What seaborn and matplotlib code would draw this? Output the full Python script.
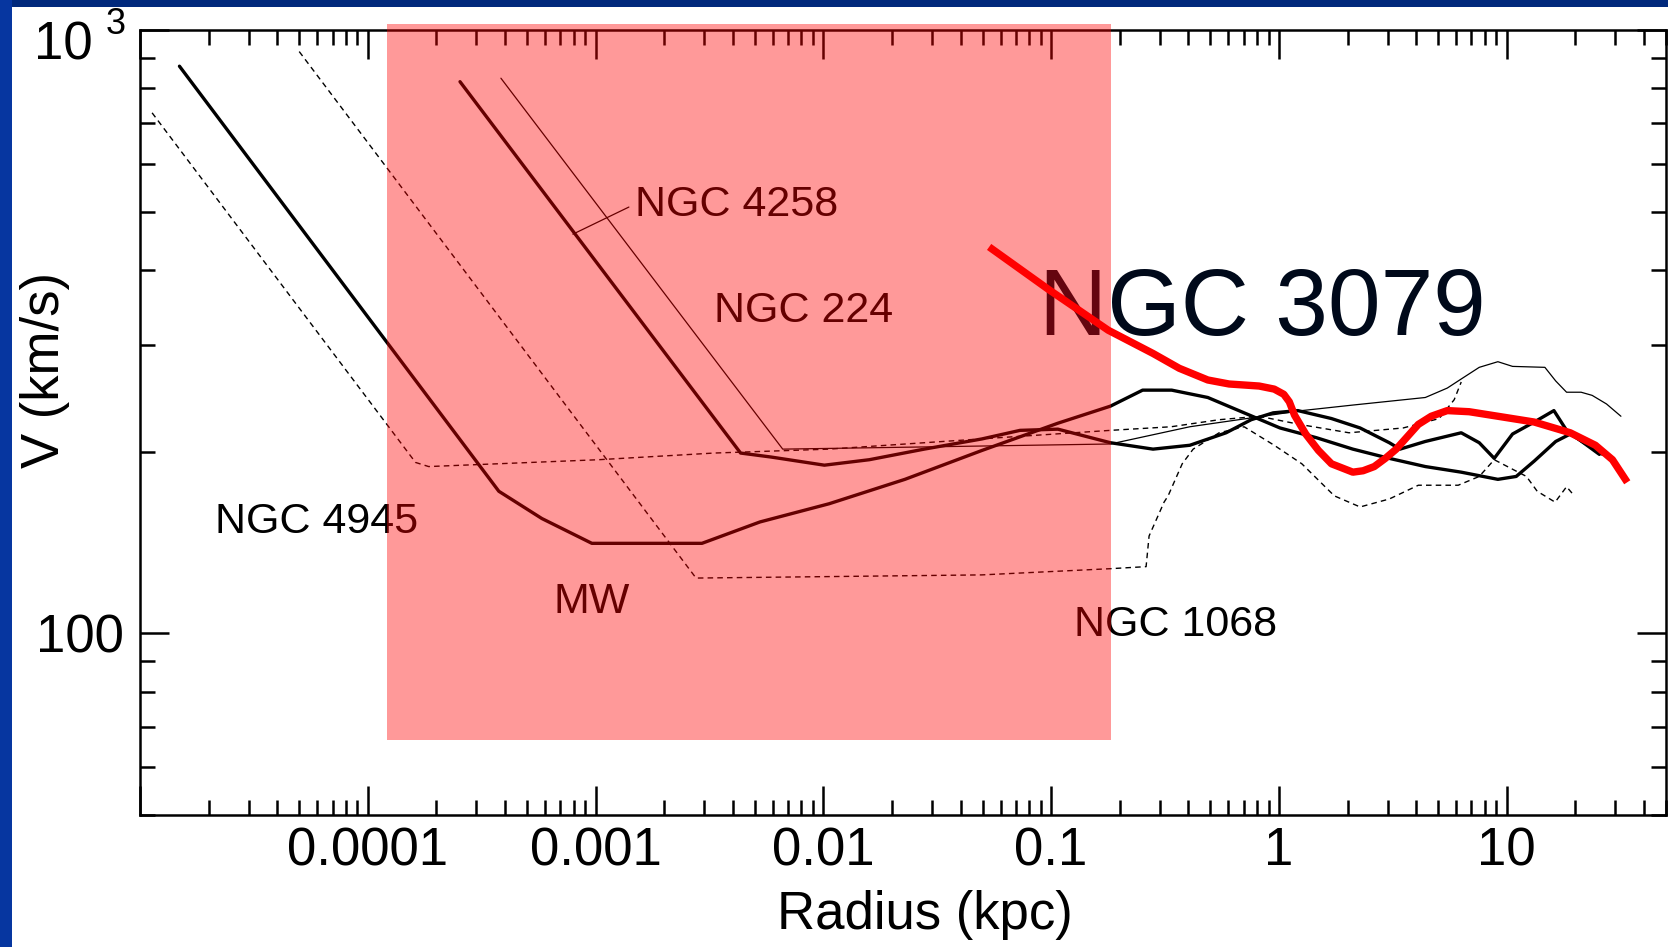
import numpy as np
import matplotlib
matplotlib.use("Agg")
import matplotlib.pyplot as plt
import seaborn as sns
from matplotlib.patches import Rectangle
from matplotlib.ticker import FixedLocator, FixedFormatter, LogLocator, NullFormatter

# ---------------------------------------------------------------------------
# Rotation curves: radius (kpc) and rotation velocity (km/s)
# ---------------------------------------------------------------------------
MW_R = [1.49e-5, 3.76e-4, 5.81e-4, 9.63e-4, 2.93e-3, 5.27e-3, 0.0106, 0.0228,
        0.0497, 0.107, 0.182, 0.252, 0.338, 0.487, 0.703, 1.01, 1.46, 2.11,
        3.05, 4.39, 6.31, 9.14, 11.0, 13.2, 16.4, 19.0, 26.4]
MW_V = [871, 172, 155, 141, 141, 153, 164, 180,
        201, 223, 238, 253, 253, 246, 232, 219, 211, 202,
        195, 189, 185, 180, 182, 193, 208, 214, 198]

N4258_R = [2.54e-4, 4.33e-3, 5.89e-3, 0.0101, 0.0159, 0.0277, 0.0496, 0.0730,
           0.107, 0.182, 0.280, 0.406, 0.586, 0.755, 0.943, 1.21, 1.70, 2.27,
           3.05, 3.40, 4.39, 6.31, 7.57, 8.81, 10.6, 13.2, 16.1, 18.3, 25.5]
N4258_V = [821, 199, 196, 190, 194, 202, 210, 217,
           218, 207, 202, 205, 215, 226, 232, 234, 227, 219,
           207, 202, 208, 215, 207, 195, 214, 224, 234, 217, 198]

N224_R = [3.84e-4, 6.63e-3, 0.0356, 0.182, 0.406, 1.26, 2.11, 4.39, 5.48, 6.31,
          7.57, 9.14, 10.6, 14.7, 16.4, 18.3, 21.2, 23.7, 27.4, 31.7]
N224_V = [832, 202, 204, 206, 220, 234, 239, 246, 255, 264,
          276, 282, 277, 276, 262, 251, 251, 248, 240, 229]

N4945_R = [1.13e-5, 1.62e-4, 1.85e-4, 1.03e-3, 3.31e-3, 0.0106, 0.0590, 0.182,
           0.336, 0.546, 0.818, 1.23, 2.03, 3.51, 5.05, 5.88, 6.31]
N4945_V = [729, 192, 189, 194, 199, 202, 211, 217,
           220, 226, 229, 222, 215, 219, 227, 244, 261]

N1068_R = [5.0e-5, 2.76e-3, 0.0496, 0.182, 0.261, 0.269, 0.313, 0.326, 0.376,
           0.420, 0.546, 0.703, 0.953, 1.26, 1.75, 2.27, 3.05, 4.09, 6.12,
           7.57, 8.81, 12.2, 13.6, 16.3, 18.3, 19.8]
N1068_V = [921, 123.5, 125, 128, 129, 145, 165, 169, 191,
           202, 215, 220, 205, 191, 169, 162, 167, 176, 176,
           182, 194, 182, 172, 165, 175, 169]

N3079_R = [0.0534, 0.0979, 0.178, 0.280, 0.365, 0.487, 0.604, 0.818, 0.953,
           1.05, 1.11, 1.17, 1.31, 1.49, 1.70, 2.11, 2.34, 2.62, 2.93, 3.27,
           4.09, 4.66, 5.48, 6.84, 9.14, 13.2, 19.0, 24.5, 29.1, 33.8]
N3079_V = [437, 371, 318, 291, 275, 263, 259, 257, 254,
           249, 242, 230, 214, 201, 191, 185, 186, 189, 195, 202,
           222, 229, 234, 233, 229, 224, 215, 205, 194, 178]

# Axis ticks and labels
X_MAJOR = [1e-5, 1e-4, 1e-3, 1e-2, 1e-1, 1, 10]
X_LABELS = ["", "0.0001", "0.001", "0.01", "0.1", "1", "10"]
Y_MAJOR = [100, 1000]
Y_LABELS = ["100", ""]

# Galaxy names placed next to their curves (radius, velocity, text)
LABELS = [
    (1.494e-3, 491.4, "NGC 4258"),
    (3.30e-3, 328.4, "NGC 224"),
    (2.133e-5, 146.8, "NGC 4945"),
    (6.55e-4, 108.0, "MW"),
    (0.1256, 99.1, "NGC 1068"),
]

# Highlighted inner region (radius range, velocity range)
HIGHLIGHT_R = (1.212e-4, 0.1833)
HIGHLIGHT_V = (66.5, 1023)

# ---------------------------------------------------------------------------
sns.set_theme(style="white")
plt.rcParams["font.family"] = ["Liberation Sans", "DejaVu Sans"]

W, H = 1668, 947
fig = plt.figure(figsize=(W / 100, H / 100), dpi=100)
fig.patch.set_facecolor("white")

# slide frame bands
fig.add_artist(Rectangle((0, 1 - 7 / H), 1, 7 / H, transform=fig.transFigure,
                         facecolor="#01297c", edgecolor="none", zorder=0))
fig.add_artist(Rectangle((0, 0), 12 / W, 1, transform=fig.transFigure,
                         facecolor="#0636a0", edgecolor="none", zorder=0))

ax = fig.add_axes([140 / W, 132 / H, 1526 / W, 785 / H])
ax.set_facecolor("white")
ax.set_xscale("log")
ax.set_yscale("log")

thick, thin = 2.4, 0.9
dash = (0, (4, 3))
curves = [
    (MW_R, MW_V, thick, "-"),
    (N4258_R, N4258_V, thick, "-"),
    (N224_R, N224_V, thin, "-"),
    (N4945_R, N4945_V, 1.0, dash),
    (N1068_R, N1068_V, 1.0, dash),
]
for r, v, lw, ls in curves:
    sns.lineplot(x=r, y=v, ax=ax, color="black", linewidth=lw, linestyle=ls,
                 sort=False, estimator=None, zorder=3)

# pointer from the NGC 4258 label to its curve
ax.plot([1.40e-3, 7.95e-4], [508.8, 458.8], color="black", lw=0.9, zorder=3)

for x, y, t in LABELS:
    ax.text(x, y, t, fontsize=31, ha="left", va="baseline", color="black", zorder=3)

ax.text(0.0885, 312.0, "NGC 3079", fontsize=68, ha="left", va="baseline",
        color="#00091a", zorder=4)

# translucent highlight over the inner region
ax.add_patch(Rectangle((HIGHLIGHT_R[0], HIGHLIGHT_V[0]),
                       HIGHLIGHT_R[1] - HIGHLIGHT_R[0],
                       HIGHLIGHT_V[1] - HIGHLIGHT_V[0],
                       facecolor="#ff0000", alpha=0.4, edgecolor="none",
                       zorder=5, clip_on=False))

sns.lineplot(x=N3079_R, y=N3079_V, ax=ax, color="#ff0000", linewidth=5.3,
             sort=False, estimator=None, zorder=7, solid_capstyle="butt",
             solid_joinstyle="round")

ax.set_xlim(1e-5, 50)
ax.set_ylim(50, 1000)

ax.xaxis.set_major_locator(FixedLocator(X_MAJOR))
ax.xaxis.set_major_formatter(FixedFormatter(X_LABELS))
ax.xaxis.set_minor_locator(LogLocator(base=10, subs=np.arange(2, 10), numticks=100))
ax.xaxis.set_minor_formatter(NullFormatter())
ax.yaxis.set_major_locator(FixedLocator(Y_MAJOR))
ax.yaxis.set_major_formatter(FixedFormatter(Y_LABELS))
ax.yaxis.set_minor_locator(LogLocator(base=10, subs=np.arange(2, 10), numticks=100))
ax.yaxis.set_minor_formatter(NullFormatter())

ax.tick_params(axis="both", which="both", direction="in", top=True, right=True,
               bottom=True, left=True, color="black", width=1.8)
ax.tick_params(which="major", length=21)
ax.tick_params(which="minor", length=10.5)
ax.tick_params(axis="x", which="major", labelsize=38, pad=8, labelcolor="black")
ax.tick_params(axis="y", which="major", labelsize=38, pad=11.5, labelcolor="black")

for s in ax.spines.values():
    s.set_color("black")
    s.set_linewidth(1.8)
    s.set_visible(True)

ax.set_xlabel("Radius (kpc)", fontsize=38, color="black")
ax.xaxis.set_label_coords(0.5146, -0.1268)
ax.xaxis.label.set_va("center")
ax.set_ylabel("V (km/s)", fontsize=38, color="black")
ax.yaxis.set_label_coords(-0.0621, 0.567)
ax.yaxis.label.set_va("center")

# 10^3 label at the top of the velocity axis
fig.text(34 / W, 1 - 60 / H, "10", fontsize=38, ha="left", va="baseline", color="black")
fig.text(106 / W, 1 - 34 / H, "3", fontsize=26, ha="left", va="baseline", color="black")

fig.savefig("out.png", dpi=100)
